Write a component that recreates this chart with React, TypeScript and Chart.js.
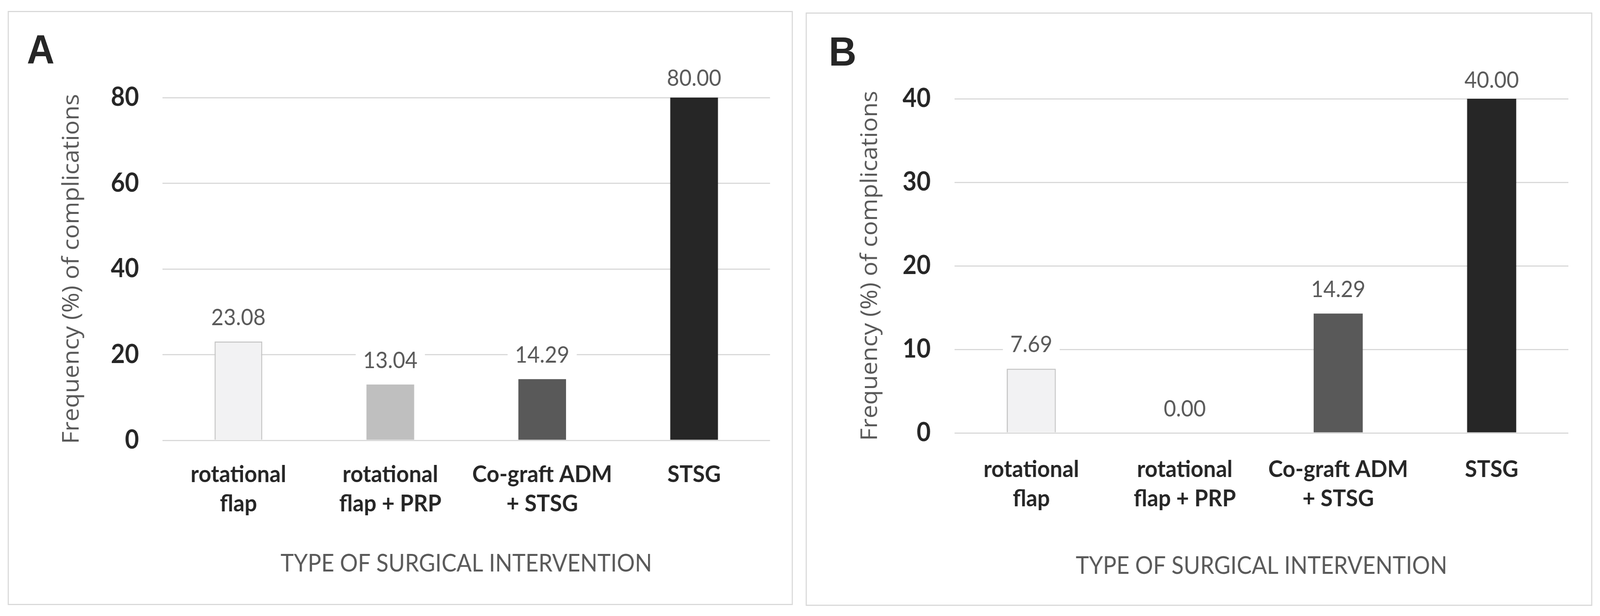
import React, { useEffect, useRef, useState } from 'react';
import { Chart, registerables } from 'chart.js';

Chart.register(...registerables);

const categories: string[][] = [
  ['rotational', 'flap'],
  ['rotational', 'flap + PRP'],
  ['Co-graft ADM', '+ STSG'],
  ['STSG'],
];
const valuesA: number[] = [23.08, 13.04, 14.29, 80.0];
const valuesB: number[] = [7.69, 0.0, 14.29, 40.0];
const ticksA: number[] = [0, 20, 40, 60, 80];
const ticksB: number[] = [0, 10, 20, 30, 40];
const barColors: string[] = ['#f2f2f3', '#bfbfbf', '#595959', '#262626'];
const barBorderColors: string[] = ['#c4c4c4', '#bfbfbf', '#595959', '#262626'];
const barBorderWidths: number[] = [3, 0, 0, 0];
const yTitle = 'Frequency (%) of complications';
const xTitle = 'TYPE OF SURGICAL INTERVENTION';

const FONT = 'Lato, "Liberation Sans", sans-serif';

interface Geo {
  left: number;
  top: number;
  width: number;
  height: number;
  axisW: number;
  axisH: number;
  padTop: number;
  padRight: number;
  yTickPad: number;
  yTitlePad: number;
  xTickPad: number;
  xTitlePad: number;
  letterLeft: number;
  letterTop: number;
  barPct: number;
  topClamp: number;
}

// canvas origin = panel left/top + 3 (border)
const geoA: Geo = {
  left: 21, top: 28, width: 2136, height: 1522,
  axisW: 418, axisH: 419, padTop: 219, padRight: 59,
  yTickPad: 64, yTitlePad: 135, xTickPad: 50, xTitlePad: 66,
  letterLeft: 73, letterTop: 74, barPct: 0.314, topClamp: 30,
};
const geoB: Geo = {
  left: 2192, top: 32, width: 2140, height: 1520,
  axisW: 402, axisH: 440, padTop: 218, padRight: 62,
  yTickPad: 65, yTitlePad: 136, xTickPad: 56, xTitlePad: 62,
  letterLeft: 2255, letterTop: 80, barPct: 0.32, topClamp: 28,
};

const valueLabelPlugin = {
  id: 'valueLabels',
  afterDatasetsDraw(chart: any, _args: any, opts: any) {
    const ctx = chart.ctx;
    const meta = chart.getDatasetMeta(0);
    const data = chart.data.datasets[0].data as number[];
    const clamp = opts && typeof opts.topClamp === 'number' ? opts.topClamp : 30;
    ctx.save();
    ctx.font = `400 58px ${FONT}`;
    ctx.textAlign = 'center';
    ctx.textBaseline = 'alphabetic';
    meta.data.forEach((bar: any, i: number) => {
      const text = Number(data[i]).toFixed(2);
      const w = ctx.measureText(text).width;
      const base = Math.max(bar.y - 42, chart.chartArea.top - clamp);
      ctx.fillStyle = '#ffffff';
      ctx.fillRect(bar.x - w / 2 - 20, base - 52, w + 40, 64);
      ctx.fillStyle = '#595959';
      ctx.fillText(text, bar.x, base);
    });
    ctx.restore();
  },
};

function Panel({ letter, values, ticks, geo }: { letter: string; values: number[]; ticks: number[]; geo: Geo }) {
  const ref = useRef<HTMLCanvasElement | null>(null);
  const cw = geo.width - 6;
  const ch = geo.height - 6;

  useEffect(() => {
    if (!ref.current) return;
    const chart = new Chart(ref.current, {
      type: 'bar',
      data: {
        labels: categories,
        datasets: [
          {
            data: values,
            backgroundColor: barColors,
            borderColor: barBorderColors,
            borderWidth: barBorderWidths,
            categoryPercentage: 1,
            barPercentage: geo.barPct,
          },
        ],
      },
      options: {
        animation: false,
        responsive: false,
        devicePixelRatio: 1,
        layout: { padding: { top: geo.padTop, right: geo.padRight, left: 0, bottom: 0 } },
        plugins: {
          legend: { display: false },
          tooltip: { enabled: false },
          title: { display: false },
          valueLabels: { topClamp: geo.topClamp },
        },
        scales: {
          x: {
            grid: { display: false, drawTicks: false },
            border: { display: false },
            ticks: {
              color: '#262626',
              font: { family: FONT, size: 60, weight: 'bold', lineHeight: 75 / 60 },
              padding: geo.xTickPad,
              maxRotation: 0,
              minRotation: 0,
              autoSkip: false,
            },
            title: {
              display: true,
              text: xTitle,
              color: '#595959',
              font: { family: FONT, size: 61, weight: 'normal', lineHeight: 1.2 },
              padding: { top: 0, bottom: geo.xTitlePad },
            },
            afterFit: (scale: any) => {
              scale.height = geo.axisH;
            },
          },
          y: {
            min: ticks[0],
            max: ticks[ticks.length - 1],
            grid: { color: '#d9d9d9', lineWidth: 3, drawTicks: false },
            border: { display: false },
            ticks: {
              stepSize: ticks[1] - ticks[0],
              color: '#262626',
              font: { family: FONT, size: 66, weight: 'bold' },
              padding: geo.yTickPad,
            },
            title: {
              display: true,
              text: yTitle,
              color: '#595959',
              font: { family: '"Open Sans", "DejaVu Sans", sans-serif', size: 62, weight: 'normal', lineHeight: 1.2 },
              padding: { top: geo.yTitlePad, bottom: 0 },
            },
            afterFit: (scale: any) => {
              scale.width = geo.axisW;
            },
          },
        },
      } as any,
      plugins: [valueLabelPlugin],
    });
    return () => chart.destroy();
  }, []);

  return (
    <>
      <div
        style={{
          position: 'absolute',
          left: geo.left,
          top: geo.top,
          width: geo.width,
          height: geo.height,
          boxSizing: 'border-box',
          border: '3px solid #d9d9d9',
          background: '#ffffff',
        }}
      >
        <canvas ref={ref} width={cw} height={ch} style={{ display: 'block', width: cw, height: ch }} />
      </div>
      <div
        style={{
          position: 'absolute',
          left: geo.letterLeft,
          top: geo.letterTop,
          fontFamily: '"Liberation Sans", Arial, sans-serif',
          fontWeight: 'bold',
          fontSize: 104,
          lineHeight: '104px',
          color: '#262626',
        }}
      >
        {letter}
      </div>
    </>
  );
}

export default function App() {
  const [sx, setSx] = useState(() => Math.min(1, window.innerWidth / 4353));
  useEffect(() => {
    setSx(Math.min(1, window.innerWidth / 4353));
  }, []);
  return (
    <div
      style={{
        position: 'absolute',
        left: 0,
        top: 0,
        width: 4353,
        height: 1578,
        background: '#ffffff',
        overflow: 'hidden',
        transform: `scaleX(${sx})`,
        transformOrigin: '0 0',
      }}
    >
      <Panel letter="A" values={valuesA} ticks={ticksA} geo={geoA} />
      <Panel letter="B" values={valuesB} ticks={ticksB} geo={geoB} />
    </div>
  );
}
